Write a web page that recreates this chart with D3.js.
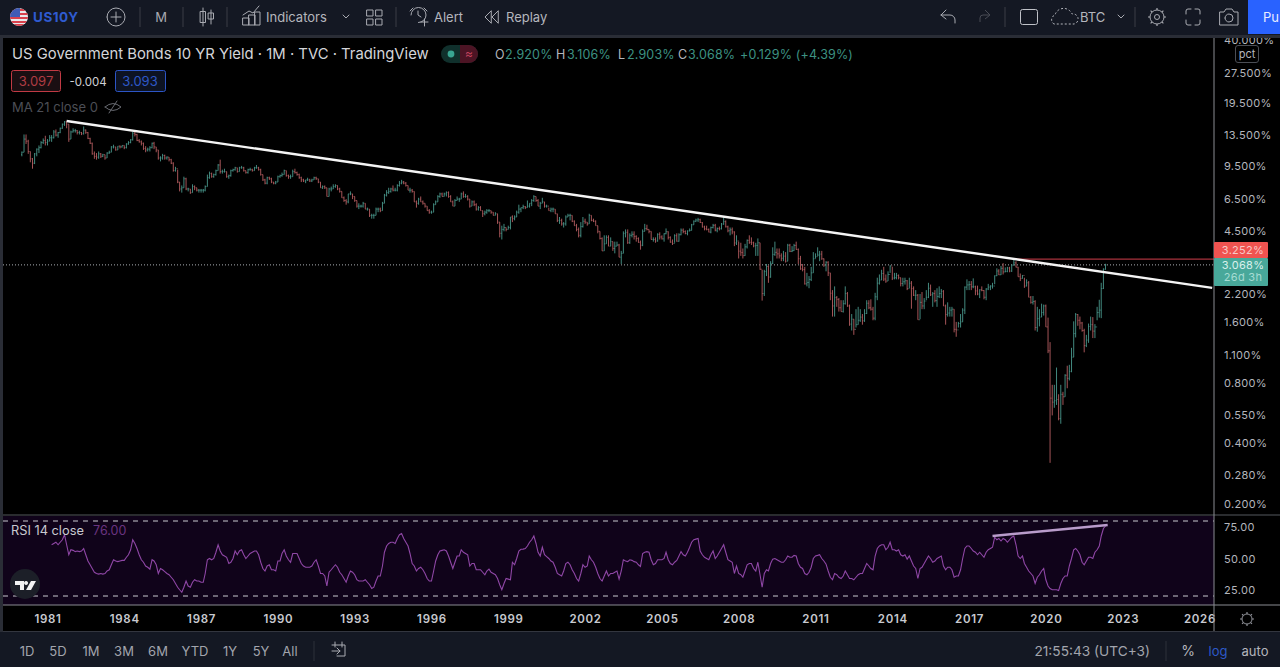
<!DOCTYPE html>
<html>
<head>
<meta charset="utf-8">
<title>US10Y</title>
<script src="https://cdn.jsdelivr.net/npm/d3@7/dist/d3.min.js"></script>
<style>
  html, body { margin: 0; padding: 0; background: #000; overflow: hidden; }
  svg { display: block; }
  text { font-family: Inter, "Noto Sans", sans-serif; }
</style>
</head>
<body>
<script>
// Monthly bars start in January 1980, RSI starts in March 1981
const firstYear = 1980;
const rsiFirstIndex = 14;

const closes = [
  11.1,12.9,12.6,11.2,10.3,9.8,10.9,11.5,11.7,12.4,12.7,12.4,
  12.6,13.1,13.1,14.0,13.5,13.9,14.6,15.3,15.7,15.3,12.9,14.0,
  14.2,14.2,13.9,13.9,13.7,14.3,13.9,13.0,12.3,10.9,10.6,10.5,
  10.9,10.6,10.8,10.4,11.0,11.1,11.8,11.8,11.4,11.9,11.8,12.0,
  11.7,12.2,12.4,12.8,13.8,13.6,12.7,12.5,12.3,11.6,11.4,11.5,
  11.7,12.3,11.8,11.4,10.4,10.4,10.7,10.4,10.5,10.2,9.8,9.0,
  9.2,7.9,7.3,7.4,8.2,7.3,7.3,7.0,7.5,7.4,7.2,7.2,
  7.2,7.2,7.5,8.3,8.7,8.4,8.6,9.0,9.6,8.9,8.9,8.9,
  8.4,8.5,9.0,9.1,9.3,8.9,9.3,9.3,9.0,8.8,9.1,9.1,
  9.0,9.3,9.3,9.1,8.6,8.1,7.8,8.3,8.2,7.9,7.8,7.9,
  8.4,8.5,8.6,9.0,8.5,8.4,8.4,8.9,8.8,8.6,8.3,8.1,
  8.0,8.1,8.1,8.0,8.1,8.3,8.2,7.9,7.4,7.5,7.4,6.7,
  7.3,7.3,7.5,7.6,7.3,7.1,6.6,6.4,6.3,6.9,6.9,6.7,
  6.4,6.0,6.0,6.0,6.2,5.8,5.8,5.4,5.4,5.4,5.8,5.8,
  5.7,6.2,6.8,7.0,7.1,7.3,7.2,7.2,7.6,7.8,7.9,7.8,
  7.6,7.2,7.2,7.1,6.3,6.2,6.5,6.3,6.2,6.0,5.7,5.6,
  5.6,6.1,6.3,6.7,6.9,6.7,6.9,7.0,6.7,6.3,6.0,6.4,
  6.5,6.5,6.9,6.7,6.7,6.5,6.0,6.3,6.1,5.8,5.9,5.7,
  5.5,5.6,5.7,5.7,5.6,5.4,5.5,5.0,4.4,4.6,4.7,4.6,
  4.7,5.3,5.2,5.3,5.6,5.8,5.9,5.97,5.9,6.0,6.2,6.4,
  6.7,6.4,6.0,6.2,6.3,6.0,6.0,5.7,5.8,5.8,5.5,5.1,
  5.1,4.9,4.9,5.3,5.4,5.4,5.05,4.8,4.6,4.3,4.75,5.05,
  5.0,4.9,5.4,5.1,5.05,4.8,4.5,4.15,3.6,3.9,4.2,3.8,
  4.0,3.7,3.8,3.85,3.35,3.5,4.4,4.45,3.95,4.3,4.35,4.25,
  4.15,3.97,3.84,4.5,4.65,4.6,4.5,4.1,4.1,4.03,4.35,4.22,
  4.13,4.38,4.48,4.2,3.98,3.92,4.28,4.02,4.33,4.56,4.49,4.39,
  4.52,4.55,4.85,5.05,5.12,5.14,4.98,4.73,4.63,4.6,4.46,4.7,
  4.82,4.56,4.65,4.63,4.89,5.03,4.74,4.53,4.58,4.47,3.94,4.03,
  3.59,3.53,3.41,3.77,4.06,3.97,3.95,3.81,3.83,3.95,2.92,2.21,
  2.84,3.01,2.67,3.12,3.46,3.54,3.48,3.4,3.31,3.39,3.2,3.84,
  3.58,3.61,3.83,3.66,3.29,2.93,2.91,2.47,2.51,2.6,2.8,3.29,
  3.37,3.43,3.47,3.29,3.06,3.16,2.8,2.22,1.92,2.11,2.07,1.88,
  1.8,1.97,2.21,1.92,1.56,1.65,1.47,1.55,1.63,1.69,1.62,1.76,
  1.98,1.88,1.85,1.67,2.13,2.49,2.58,2.78,2.61,2.55,2.75,3.03,
  2.64,2.65,2.72,2.65,2.48,2.53,2.56,2.34,2.49,2.34,2.17,2.17,
  1.64,2.0,1.92,2.03,2.12,2.35,2.18,2.21,2.04,2.14,2.21,2.27,
  1.92,1.74,1.77,1.83,1.85,1.47,1.46,1.57,1.6,1.83,2.38,2.44,
  2.45,2.39,2.39,2.28,2.2,2.31,2.29,2.12,2.33,2.38,2.41,2.41,
  2.71,2.86,2.74,2.95,2.83,2.85,2.96,2.86,3.06,3.14,2.99,2.68,
  2.63,2.72,2.41,2.5,2.12,2.0,2.02,1.5,1.66,1.69,1.78,1.92,
  1.51,1.15,0.67,0.64,0.65,0.66,0.53,0.70,0.68,0.87,0.84,0.91,
  1.07,1.40,1.74,1.63,1.58,1.45,1.22,1.30,1.52,1.55,1.44,1.51,
  1.78,1.83,2.34,2.92,3.068
];

const highs = [
  11.2,13.6,13.6,12.8,11.2,10.4,11.0,11.6,12.0,12.6,13.0,13.4,
  12.9,13.5,13.5,14.3,14.4,14.0,14.7,15.4,15.85,15.8,15.3,14.2,
  14.6,14.5,14.3,14.2,14.0,14.9,14.4,14.0,13.1,12.4,11.2,11.0,
  11.2,11.0,10.9,10.8,11.1,11.3,11.9,12.1,11.8,11.9,12.0,12.0,
  12.0,12.3,12.6,12.9,14.0,14.05,13.7,12.9,12.7,12.4,11.9,11.7,
  11.9,12.4,12.5,11.8,11.4,10.6,10.9,10.8,10.6,10.5,10.3,9.9,
  9.4,9.1,7.9,7.6,8.4,8.3,7.4,7.3,7.7,7.6,7.4,7.3,
  7.3,7.3,7.6,8.6,8.9,8.8,8.7,9.1,9.7,10.2,9.1,9.2,
  8.9,8.6,9.1,9.2,9.4,9.3,9.4,9.5,9.4,9.0,9.2,9.3,
  9.2,9.4,9.6,9.4,9.2,8.6,8.2,8.4,8.4,8.3,7.9,8.0,
  8.5,8.6,8.8,9.1,9.0,8.6,8.6,9.1,9.2,8.9,8.7,8.4,
  8.2,8.1,8.3,8.2,8.2,8.4,8.4,8.2,7.9,7.6,7.6,7.4,
  7.4,7.5,7.7,7.7,7.6,7.4,7.1,6.7,6.5,6.9,7.1,6.9,
  6.7,6.4,6.2,6.1,6.3,6.2,5.9,5.8,5.5,5.5,5.9,5.9,
  5.9,6.3,6.9,7.2,7.4,7.4,7.6,7.4,7.7,8.0,8.1,8.0,
  7.9,7.6,7.4,7.3,7.1,6.4,6.6,6.7,6.4,6.2,6.0,5.8,
  5.7,6.2,6.4,6.8,7.0,7.0,7.0,7.1,7.1,6.8,6.4,6.5,
  6.7,6.6,7.0,7.1,6.9,6.8,6.5,6.4,6.4,6.2,6.0,6.0,
  5.7,5.7,5.8,5.8,5.7,5.6,5.6,5.5,5.0,4.8,4.9,4.7,
  4.8,5.3,5.4,5.4,5.7,6.1,5.9,6.1,6.0,6.4,6.2,6.5,
  6.8,6.7,6.5,6.3,6.6,6.3,6.1,5.9,5.9,5.9,5.8,5.5,
  5.3,5.2,5.0,5.4,5.5,5.5,5.4,5.1,4.9,4.7,5.0,5.3,
  5.2,5.0,5.5,5.4,5.2,5.1,4.8,4.5,4.2,4.3,4.3,4.3,
  4.2,4.0,4.0,4.0,3.9,3.6,4.5,4.6,4.6,4.4,4.5,4.5,
  4.3,4.2,4.05,4.6,4.9,4.85,4.6,4.5,4.2,4.2,4.4,4.45,
  4.3,4.4,4.65,4.5,4.25,4.1,4.35,4.4,4.4,4.65,4.65,4.55,
  4.55,4.65,4.9,5.1,5.2,5.25,5.2,5.0,4.8,4.8,4.65,4.75,
  4.9,4.9,4.7,4.75,4.95,5.35,5.1,4.8,4.7,4.7,4.5,4.3,
  4.0,3.95,3.7,3.9,4.1,4.3,4.2,4.0,3.95,4.15,3.95,2.9,
  2.9,3.1,3.05,3.2,3.75,4.0,3.7,3.7,3.5,3.6,3.55,3.9,
  3.9,3.8,3.9,4.0,3.7,3.4,3.1,3.0,2.8,2.7,3.0,3.55,
  3.5,3.75,3.6,3.6,3.3,3.2,3.2,2.8,2.3,2.4,2.15,2.1,
  2.05,2.05,2.4,2.25,1.95,1.75,1.65,1.85,1.9,1.85,1.75,1.85,
  2.05,2.05,2.07,1.9,2.23,2.65,2.75,2.9,3.0,2.75,2.85,3.05,
  3.0,2.8,2.8,2.75,2.65,2.65,2.65,2.58,2.65,2.55,2.4,2.3,
  2.2,2.2,2.25,2.1,2.3,2.5,2.45,2.25,2.3,2.35,2.4,2.33,
  2.3,1.95,2.0,1.9,1.9,1.85,1.6,1.6,1.75,1.87,2.4,2.6,
  2.55,2.55,2.63,2.42,2.42,2.32,2.4,2.3,2.35,2.47,2.43,2.5,
  2.72,2.95,2.92,3.03,3.13,2.98,3.0,3.0,3.08,3.25,3.2,3.0,
  2.78,2.73,2.65,2.6,2.55,2.15,2.15,2.05,1.9,1.85,1.97,1.95,
  1.95,1.68,1.27,0.78,0.78,0.95,0.70,0.78,0.72,0.88,0.97,0.98,
  1.19,1.61,1.77,1.75,1.7,1.6,1.48,1.38,1.57,1.7,1.69,1.56,
  1.9,2.06,2.5,2.95,3.106
];

const lows = [
  10.6,11.1,12.2,10.9,9.9,9.2,9.7,10.6,11.0,11.6,12.2,12.0,
  12.0,12.6,12.5,13.0,13.3,13.1,13.8,14.5,15.0,14.6,12.5,12.9,
  13.9,13.9,13.6,13.6,13.5,13.6,13.7,12.9,12.2,10.8,10.3,10.2,
  10.3,10.4,10.5,10.2,10.4,10.9,11.1,11.6,11.3,11.4,11.6,11.7,
  11.5,11.6,12.1,12.3,12.7,13.3,12.6,12.4,12.0,11.4,11.1,11.2,
  11.2,11.6,11.5,11.1,10.2,10.0,10.2,10.2,10.2,10.0,9.7,8.9,
  8.9,7.8,7.1,7.0,7.4,7.2,7.1,6.9,7.0,7.2,7.1,7.0,
  7.0,7.0,7.1,7.5,8.2,8.3,8.3,8.5,9.0,8.7,8.7,8.8,
  8.3,8.2,8.4,8.9,9.0,8.8,8.9,9.2,8.9,8.7,8.7,9.0,
  8.9,9.0,9.2,9.0,8.5,8.0,7.7,7.7,8.1,7.8,7.7,7.7,
  7.9,8.3,8.4,8.6,8.4,8.2,8.2,8.4,8.7,8.5,8.2,7.9,
  7.9,7.8,8.0,7.9,7.9,8.1,8.1,7.8,7.4,7.3,7.3,6.7,
  6.7,7.1,7.3,7.4,7.2,7.0,6.6,6.3,6.1,6.2,6.8,6.5,
  6.3,5.9,5.8,5.9,5.9,5.8,5.7,5.3,5.2,5.2,5.4,5.6,
  5.6,5.7,6.2,6.7,6.9,7.0,7.1,7.1,7.1,7.5,7.7,7.7,
  7.5,7.2,7.0,7.0,6.3,5.9,6.1,6.3,6.1,5.9,5.7,5.5,
  5.5,5.6,6.1,6.3,6.6,6.7,6.7,6.7,6.6,6.3,6.0,6.0,
  6.4,6.3,6.5,6.6,6.6,6.4,5.9,6.0,6.0,5.7,5.7,5.7,
  5.3,5.4,5.5,5.6,5.5,5.4,5.4,4.9,4.2,4.1,4.5,4.5,
  4.6,4.6,5.0,5.1,5.3,5.5,5.6,5.8,5.8,5.9,5.9,6.0,
  6.3,6.3,6.0,5.8,6.2,5.9,5.9,5.7,5.6,5.6,5.5,5.0,
  4.9,4.8,4.7,4.8,5.3,5.1,5.0,4.8,4.5,4.2,4.2,4.7,
  4.9,4.8,4.9,5.05,5.0,4.8,4.4,4.1,3.6,3.6,3.9,3.8,
  3.8,3.6,3.5,3.8,3.35,3.1,3.5,4.2,3.9,3.9,4.2,4.1,
  4.0,3.95,3.65,3.8,4.5,4.55,4.4,4.1,4.0,3.95,4.0,4.1,
  4.1,4.0,4.35,4.1,3.95,3.85,3.95,4.0,4.0,4.3,4.4,4.35,
  4.3,4.5,4.55,4.85,5.0,5.0,4.95,4.7,4.55,4.55,4.45,4.4,
  4.65,4.5,4.45,4.55,4.6,4.85,4.7,4.45,4.3,4.35,3.8,3.85,
  3.3,3.4,3.3,3.4,3.7,3.9,3.85,3.75,3.4,3.4,2.9,2.04,
  2.15,2.7,2.5,2.65,3.1,3.4,3.3,3.3,3.2,3.2,3.15,3.2,
  3.55,3.55,3.6,3.65,3.1,2.9,2.85,2.45,2.4,2.35,2.55,2.8,
  3.3,3.4,3.2,3.25,3.0,2.85,2.7,2.05,1.7,1.7,1.9,1.8,
  1.8,1.78,1.95,1.9,1.53,1.45,1.38,1.5,1.55,1.6,1.55,1.6,
  1.75,1.85,1.82,1.63,1.63,2.05,2.45,2.58,2.55,2.5,2.55,2.8,
  2.58,2.6,2.6,2.6,2.4,2.4,2.45,2.3,2.35,1.86,2.15,2.05,
  1.64,1.65,1.85,1.85,2.05,2.1,2.15,1.9,2.0,1.9,2.1,2.1,
  1.92,1.55,1.7,1.7,1.7,1.42,1.35,1.5,1.5,1.6,1.75,2.3,
  2.3,2.3,2.35,2.17,2.17,2.1,2.27,2.07,2.05,2.3,2.3,2.34,
  2.46,2.7,2.73,2.73,2.75,2.82,2.82,2.82,2.83,3.05,2.98,2.68,
  2.55,2.62,2.36,2.4,2.12,1.97,1.95,1.45,1.43,1.52,1.69,1.72,
  1.51,1.12,0.32,0.55,0.6,0.62,0.52,0.5,0.62,0.68,0.75,0.82,
  0.9,1.07,1.34,1.53,1.47,1.43,1.13,1.2,1.26,1.45,1.33,1.33,
  1.63,1.68,1.67,2.33,2.903
];

const rsiValues = [
  61,62,63,61,63,65,69,61,53,57,
  56.5,55.5,56,55.5,56,58,53,48,45,42,39,38,
  37.5,38,37.5,38,40,41,45,49,48,47.5,48,48.5,
  48.5,51,53,57,65,62,58,53,49,47,44,43,
  41.5,49,48,45,38,42,41,39.5,38,37,35,33,
  30,27,25,23,27,32,28,27,31,33,32,32,
  31,31,38,49,50,49,50,55,61,56,53,52,
  51,46,47,50,56,53,56,57,53,50,52,54,
  55,56,56,53,47,42,40,44,45,41,41,40,
  48,48,54,57,52,49,47,54,54,54,50,46,
  44,43,43,43,44,47,49,44,38,38,36,28,
  39,41,43,45,43,39,37,34,31,36,40,39,
  37,33,32,32,32,33,31,29,26,27,32,36,
  36,44,55,60,62,63,63,62,66,69,70,66,
  63,60,54,46,44,40,42,43,41,38,34,32,
  32,40,48,53,56,56.5,57,56,52,47,42,47,
  52,52,57,55,54,53,44,46,46,41,41,41,
  39,37,40,41.5,39,38,37,34,29,25,30,34,
  33.5,33,47,45,50,56,57.4,57.5,58,60,63,65,
  68,62,55,52,59,53,51.5,50,48,47,43,38,
  37,36,40,46,47,45,41,38,34,32,38,45,
  43,44,52,49,47,43,38,34,32,36,40,36,
  38,38,39,40,33.5,40,49,48,47.5,49,48.5,47.5,
  47,45,43.6,54,55,55.5,55,49,45,46,49,49,
  49,50,55,49,46,45,47,48.5,52,55.5,53,52,
  55,59,63,65,65.5,66,56,53,51,50,49,53,
  56,50,52,55,58,61,55,49,48,47,38,44,
  38,37,35,40,45,46,46,42,40,47,37,27,
  38,41,40,46,49.5,50,49,48,47,47,49,52,
  51,51,52.5,52,46,43,42,38,37,39,43,50,
  52,52.5,53,50,48,45.5,40,35,33,38,37,35,
  34,36,40,37,34,34,33,35,37,38,38,42,
  46,44,42,41,52,58,60,61,61,57,59,63,
  57,57,56,56.9,53,52,53,49.5,52,48,44,42,
  34,42,43,46,49,52,50,47,48,50,51,52,
  44,41,43,43,41,35,36,36,41,50,58,60,
  60,58,56,55,53,55,53,51,55,57,58,59,
  67,65,66,64,66,65,63,65,67,68,61,52,
  50,52,46,43,40,38,36,30,35,37,40,42,
  33,28,26,25,25,25,24.3,30,34,36,36,44,
  50,57,58,56,53,47,45,48,51,51,50,55,
  57,60,68,74,76
];

const priceTicks = [40, 27.5, 19.5, 13.5, 9.5, 6.5, 4.5, 2.2, 1.6, 1.1, 0.8, 0.55, 0.4, 0.28, 0.2];
const rsiTicks = [75, 50, 25];
const rsiBands = [80, 20];
const yearTicks = [1981, 1984, 1987, 1990, 1993, 1996, 1999, 2002, 2005, 2008, 2011, 2014, 2017, 2020, 2023, 2026];
const rangeButtons = ["1D", "5D", "1M", "3M", "6M", "YTD", "1Y", "5Y", "All"];

// Drawn lines, as [year, month, value]
const priceTrend = [[1981, 9, 15.86], [2026, 6, 2.36]];
const rsiTrend = [[2017, 11, 68], [2022, 5, 76.8]];
const highLevelStart = [2018, 9];
const highLevel = 3.252;
const lastClose = 3.068;

const width = 1280;
const height = 667;
const upColor = "#468f85";
const downColor = "#ad585c";
const axisText = "#b4b6bd";
const toolbarBg = "#141823";

const svg = d3.select("body").append("svg").attr("width", width).attr("height", height);

// Scales
const xScale = d3.scaleTime()
  .domain([new Date(1981, 0, 1), new Date(2026, 0, 1)])
  .range([47.5, 1199.5]);
const yScale = d3.scaleLog().domain([40, 0.2]).range([40, 504]);
const rsiScale = d3.scaleLinear().domain([80, 20]).range([521, 596]);

const monthDate = i => new Date(firstYear + Math.floor(i / 12), i % 12, 1);
const bars = closes.map((c, i) => ({
  date: monthDate(i),
  open: i === 0 ? 10.8 : closes[i - 1],
  high: highs[i],
  low: lows[i],
  close: c
}));

// Panels
svg.append("rect").attr("width", width).attr("height", height).attr("fill", "#000");
svg.append("rect").attr("x", 3).attr("y", 516).attr("width", 1211).attr("height", 89).attr("fill", "#10031a");

// Price pane: reference lines under the bars
svg.append("line")
  .attr("x1", 3).attr("x2", 1214)
  .attr("y1", yScale(lastClose)).attr("y2", yScale(lastClose))
  .attr("stroke", "#a9adb3").attr("stroke-width", 1).attr("stroke-dasharray", "1 2");
svg.append("line")
  .attr("x1", xScale(new Date(highLevelStart[0], highLevelStart[1], 1))).attr("x2", 1214)
  .attr("y1", yScale(highLevel) - 0.6).attr("y2", yScale(highLevel) - 0.6)
  .attr("stroke", "#a8323c").attr("stroke-width", 1.2);

// OHLC bars
svg.append("g").selectAll("path")
  .data(bars)
  .join("path")
  .attr("fill", "none")
  .attr("stroke", d => d.close >= d.open ? upColor : downColor)
  .attr("stroke-width", 0.95)
  .attr("d", d => {
    const x = xScale(d.date);
    return `M${x},${yScale(d.high)}V${yScale(d.low)}M${x - 0.8},${yScale(d.open)}H${x}M${x},${yScale(d.close)}H${x + 0.8}`;
  });

// Trendline on the price pane
const trendPoint = (scale) => d => [xScale(new Date(d[0], d[1], 1)), scale(d[2])];
svg.append("path")
  .attr("d", d3.line()(priceTrend.map(trendPoint(yScale))))
  .attr("stroke", "#f4f4f4").attr("stroke-width", 2.4).attr("fill", "none");

// RSI pane
svg.append("g").selectAll("line")
  .data(rsiBands)
  .join("line")
  .attr("x1", 3).attr("x2", 1214)
  .attr("y1", d => rsiScale(d)).attr("y2", d => rsiScale(d))
  .attr("stroke", "#c9c9cf").attr("stroke-width", 1).attr("stroke-dasharray", "5 5");

const rsiLine = d3.line()
  .x((d, i) => xScale(monthDate(i + rsiFirstIndex)))
  .y(d => rsiScale(d));
svg.append("path")
  .datum(rsiValues)
  .attr("d", rsiLine)
  .attr("fill", "none").attr("stroke", "#8f47a6").attr("stroke-width", 1.1);
svg.append("path")
  .attr("d", d3.line()(rsiTrend.map(trendPoint(rsiScale))))
  .attr("stroke", "#b99ccb").attr("stroke-width", 2.6).attr("fill", "none");

// Axes
const yAxis = d3.axisRight(yScale)
  .tickValues(priceTicks)
  .tickSize(0)
  .tickFormat(d => d3.format(".3f")(d) + "%");
const rsiAxis = d3.axisRight(rsiScale)
  .tickValues(rsiTicks)
  .tickSize(0)
  .tickFormat(d3.format(".2f"));
const xAxis = d3.axisBottom(xScale)
  .tickValues(yearTicks.map(y => new Date(y, 0, 1)))
  .tickSize(0)
  .tickFormat(d3.timeFormat("%Y"));

svg.append("g").attr("transform", "translate(1224,0)").call(yAxis)
  .call(g => g.select(".domain").remove())
  .call(g => g.selectAll("text").attr("x", 0).attr("fill", axisText).attr("font-size", 11).attr("letter-spacing", 0.3).attr("font-family", "Inter"));
svg.append("g").attr("transform", "translate(1224,0)").call(rsiAxis)
  .call(g => g.select(".domain").remove())
  .call(g => g.selectAll("text").attr("x", 0).attr("fill", axisText).attr("font-size", 11).attr("letter-spacing", 0.3).attr("font-family", "Inter"));
svg.append("g").attr("transform", "translate(0,615)").call(xAxis)
  .call(g => g.select(".domain").remove())
  .call(g => g.selectAll("text").attr("y", 0).attr("dy", "0.71em").attr("fill", "#c8cad0").attr("font-size", 11.5).attr("font-weight", 600).attr("letter-spacing", 0.7).attr("font-family", "Inter"));

// Frame lines
const frame = [
  [3, 515, 1280, 515, "#55585f"],
  [3, 605, 1280, 605, "#8a8c92"],
  [1214, 38, 1214, 631, "#8a8c92"]
];
svg.append("g").selectAll("line").data(frame).join("line")
  .attr("x1", d => d[0]).attr("y1", d => d[1]).attr("x2", d => d[2]).attr("y2", d => d[3])
  .attr("stroke", d => d[4]).attr("stroke-width", 1);

// Helper for the plain labels
function label(txt, x, y, size, fill, opts = {}) {
  return svg.append("text")
    .attr("x", x).attr("y", y)
    .attr("font-size", size).attr("fill", fill)
    .attr("text-anchor", opts.anchor || "start")
    .attr("font-weight", opts.weight || 400)
    .attr("letter-spacing", opts.spacing || 0)
    .text(txt);
}

// Price axis boxes
svg.append("rect").attr("x", 1214).attr("y", 242).attr("width", 54).attr("height", 16).attr("rx", 1).attr("fill", "#ef5350");
svg.append("rect").attr("x", 1214).attr("y", 258).attr("width", 54).attr("height", 28).attr("rx", 1).attr("fill", "#48a89a");
label("3.252%", 1243, 254, 11, "#f6c9c8", { anchor: "middle", spacing: 0.3 });
label("3.068%", 1243, 269, 11, "#d9f0ec", { anchor: "middle", spacing: 0.3 });
label("26d 3h", 1243, 281, 11, "#a6dcd3", { anchor: "middle", spacing: 0.3 });
svg.append("rect").attr("x", 1235.5).attr("y", 45.5).attr("width", 23).attr("height", 17).attr("rx", 2.5)
  .attr("fill", "#000").attr("stroke", "#4b4e55");
label("pct", 1247, 58, 11, "#b4b6bd", { anchor: "middle" });

// Toolbars
svg.append("rect").attr("width", width).attr("height", 35).attr("fill", toolbarBg);
svg.append("rect").attr("y", 35).attr("width", width).attr("height", 3).attr("fill", "#2a2d36");
svg.append("rect").attr("y", 35).attr("width", 3).attr("height", 597).attr("fill", "#2a2d36");
svg.append("rect").attr("y", 632).attr("width", width).attr("height", 35).attr("fill", toolbarBg);
svg.append("line").attr("x1", 3).attr("x2", 1280).attr("y1", 631.5).attr("y2", 631.5).attr("stroke", "#33363f");
svg.append("rect").attr("x", 1248).attr("y", 0).attr("width", 32).attr("height", 34).attr("fill", "#2962ff");

svg.selectAll(null).data([140, 183, 227, 396, 1005, 1135]).join("line")
  .attr("x1", d => d).attr("x2", d => d).attr("y1", 7).attr("y2", 27).attr("stroke", "#3a3d47");
svg.selectAll(null).data([314, 1166]).join("line")
  .attr("x1", d => d).attr("x2", d => d).attr("y1", 641).attr("y2", 661).attr("stroke", "#2d303a");

// Flag icon
const defs = svg.append("defs");
defs.append("clipPath").attr("id", "flagClip").append("circle").attr("cx", 19).attr("cy", 17).attr("r", 9);
const flag = svg.append("g").attr("clip-path", "url(#flagClip)");
flag.append("rect").attr("x", 10).attr("y", 8).attr("width", 18).attr("height", 18).attr("fill", "#e8e8ea");
flag.selectAll("rect.s").data([9, 13, 17, 21, 24]).join("rect").attr("class", "s")
  .attr("x", 10).attr("y", d => d).attr("width", 18).attr("height", 2).attr("fill", "#d8414c");
flag.append("rect").attr("x", 10).attr("y", 8).attr("width", 10).attr("height", 9).attr("fill", "#3f5bb5");

label("US10Y", 33, 22, 13.5, "#2f5bd0", { weight: 700, spacing: 0.5 });

const icon = (d, w, c) => svg.append("path").attr("d", d).attr("fill", "none")
  .attr("stroke", c || "#a9abb2").attr("stroke-width", w || 1).attr("stroke-linecap", "round");

icon("M107,17a9,9 0 1,0 18,0a9,9 0 1,0 -18,0M116,12V22M111,17H121");
label("M", 161, 22, 13, "#a8aab2", { anchor: "middle" });
icon("M203,8V26M200.5,11.5h5v11h-5zM211,10V24M208.5,13h5v6h-5z");
icon("M243,25h6v-7h-6zM249,25h6v-10h-6zM255,25h5v-13h-5zM243,15l6,-4 4,2 6,-7");
label("Indicators", 266, 22, 13, "#b4b6bd");
icon("M343,15l3,3 3,-3");
icon("M367,10h6v6h-6zM376,10h6v6h-6zM367,19h6v6h-6zM376,19h6v6h-6z");
icon("M411,15a7.5,7.5 0 1,1 7.5,7.5M418,11v4l3,2M410,11l3,-3M424,8l3,3M421,22h7M424.5,19v7");
label("Alert", 434, 22, 13, "#b4b6bd");
icon("M491,11l-6,6 6,6zM498,11l-6,6 6,6z");
label("Replay", 506, 22, 13, "#b4b6bd");
icon("M941,15l5,-5M941,15l5,4M942,15h8a5,5 0 0,1 5,5v3");
svg.append("path").attr("d", "M990,15l-5,-5M990,15l-5,4M989,15h-6a3,3 0 0,0 -3,3v4").attr("fill", "none").attr("stroke", "#484b55");
svg.append("rect").attr("x", 1020.5).attr("y", 9.5).attr("width", 17).attr("height", 15).attr("rx", 2).attr("fill", "none").attr("stroke", "#c0c2c8");
svg.append("path").attr("d", "M1054,24a5,5 0 0,1 1,-9a9,9 0 0,1 17,-1a5,5 0 0,1 2,10z")
  .attr("fill", "none").attr("stroke", "#b4b6bd").attr("stroke-dasharray", "2 2");
label("BTC", 1080, 22, 13, "#b4b6bd");
icon("M1118,15l3,3 3,-3");
// Settings gear, drawn as a ring with spokes
const gear = (cx, cy, r, c) => {
  svg.append("circle").attr("cx", cx).attr("cy", cy).attr("r", r).attr("fill", "none").attr("stroke", c);
  d3.range(8).forEach(i => {
    const a = i * Math.PI / 4;
    svg.append("line")
      .attr("x1", cx + r * Math.cos(a)).attr("y1", cy + r * Math.sin(a))
      .attr("x2", cx + (r + 2) * Math.cos(a)).attr("y2", cy + (r + 2) * Math.sin(a))
      .attr("stroke", c).attr("stroke-width", 1.2);
  });
};
gear(1157, 17, 7, "#a9abb2");
svg.append("circle").attr("cx", 1157).attr("cy", 17).attr("r", 2.5).attr("fill", "none").attr("stroke", "#a9abb2");
icon("M1186,14v-3a2,2 0 0,1 2,-2h3M1195,9h3a2,2 0 0,1 2,2v3M1200,20v3a2,2 0 0,1 -2,2h-3M1191,25h-3a2,2 0 0,1 -2,-2v-3");
icon("M1220,12h4l2,-3h6l2,3h4v13h-18zM1225,18a4,4 0 1,0 8,0a4,4 0 1,0 -8,0");
label("Pu", 1263, 22, 13, "#e8edff");

// Legend
label("US Government Bonds 10 YR Yield · 1M · TVC · TradingView", 12, 59, 14.85, "#d4d5d9");
svg.append("rect").attr("x", 441).attr("y", 45).attr("width", 37).attr("height", 18).attr("rx", 9).attr("fill", "#10302c");
svg.append("path").attr("d", "M460,45h9a9,9 0 0,1 0,18h-9z").attr("fill", "#4c1424");
svg.append("circle").attr("cx", 451).attr("cy", 54).attr("r", 3.4).attr("fill", "#39a592");
label("≈", 469, 58, 12, "#c0425c", { anchor: "middle" });

const ohlc = [["O", 495, 505, "2.920%"], ["H", 556, 567, "3.106%"], ["L", 618, 627, "2.903%"], ["C", 678, 688, "3.068%"]];
ohlc.forEach(d => {
  label(d[0], d[1], 59, 12.5, "#b4b6bd");
  label(d[3], d[2], 59, 12.5, "#3d9283", { spacing: 0.15 });
});
label("+0.129% (+4.39%)", 740, 59, 12.5, "#3d9283", { spacing: 0.15 });

svg.append("rect").attr("x", 11.5).attr("y", 70.5).attr("width", 49).attr("height", 21).attr("rx", 2).attr("fill", "#1a0f12").attr("stroke", "#c13a44");
label("3.097", 36, 86, 13, "#b03c44", { anchor: "middle" });
label("-0.004", 88, 86, 11.5, "#d0d1d5", { anchor: "middle" });
svg.append("rect").attr("x", 115.5).attr("y", 70.5).attr("width", 50).attr("height", 21).attr("rx", 2).attr("fill", "#0d1322").attr("stroke", "#2c55c6");
label("3.093", 140, 86, 13, "#2d58c8", { anchor: "middle" });
label("MA 21 close 0", 12, 112, 13, "#4c4e55");
icon("M105,107q8,-7 16,0q-8,7 -16,0M109,113l8,-12", 1, "#6a6c73");

label("RSI 14 close", 11, 535, 12.8, "#c8cad0");
label("76.00", 93, 535, 12.5, "#6a3480");

// Chart logo
svg.append("circle").attr("cx", 25).attr("cy", 584).attr("r", 15).attr("fill", "#1c1f28");
svg.append("path").attr("d", "M15,581h9v9h-4v-5h-5zM26,581a2,2 0 1,0 0.1,0M31,581h5l-5,9h-5z").attr("fill", "#f2f2f3");

// Gear on the time axis
gear(1247, 619, 5, "#8e9097");

// Bottom bar
const rangeCenters = [27, 58, 91, 124, 158, 195, 230, 261, 290];
svg.append("g").selectAll("text").data(rangeButtons).join("text")
  .attr("x", (d, i) => rangeCenters[i]).attr("y", 656)
  .attr("text-anchor", "middle").attr("font-size", 13).attr("fill", "#a2a5ad")
  .text(d => d);
icon("M332,645h13v11h-8M335,642v5M342,642v5M332,651h8M337,648l3,3 -3,3");
label("21:55:43 (UTC+3)", 1150, 656, 13.7, "#a2a5ad", { anchor: "end" });
label("%", 1188, 656, 14, "#b4b6bd", { anchor: "middle" });
label("log", 1218, 656, 13, "#2d58c8", { anchor: "middle" });
label("auto", 1255, 656, 13, "#b4b6bd", { anchor: "middle" });
</script>
</body>
</html>
